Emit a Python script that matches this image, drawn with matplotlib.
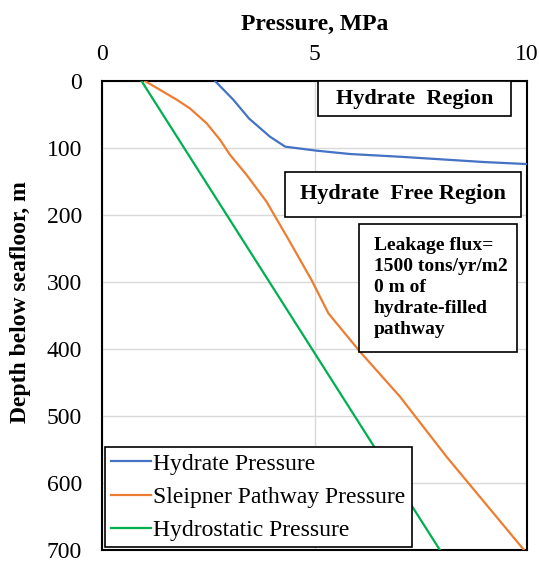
import matplotlib
matplotlib.use("Agg")
import matplotlib.pyplot as plt
from matplotlib.patches import Rectangle

plt.rcParams["font.family"] = ["Liberation Serif", "DejaVu Serif"]

# depth below seafloor (m) vs pressure (MPa)
hyd_depth = [0, 28, 56, 83, 98, 104, 109, 113, 117, 121, 124]
hyd_p = [2.66, 3.09, 3.46, 3.95, 4.31, 5.05, 5.84, 7.0, 8.0, 9.0, 10.0]

sleip_depth = [0, 13, 28, 41, 63, 88, 110, 140, 180, 240, 297, 347, 404, 471, 561, 700]
sleip_p = [1.01, 1.36, 1.76, 2.07, 2.46, 2.78, 3.01, 3.40, 3.87, 4.42, 4.93, 5.33,
           6.07, 7.01, 8.11, 9.93]

hs_depth = [0, 700]
hs_p = [0.93, 7.95]

series_labels = ["Hydrate Pressure", "Sleipner Pathway Pressure", "Hydrostatic Pressure"]
colors = ["#4472C4", "#ED7D31", "#00B050"]

x_ticks = [0, 5, 10]
y_ticks = [0, 100, 200, 300, 400, 500, 600, 700]

fig = plt.figure(figsize=(5.39, 5.63), dpi=100)
ax = fig.add_axes([102 / 539, 1 - 550 / 563, 425 / 539, 469 / 563])

ax.plot(hyd_p, hyd_depth, color=colors[0], lw=1.6, label=series_labels[0], zorder=3)
ax.plot(sleip_p, sleip_depth, color=colors[1], lw=1.6, label=series_labels[1], zorder=3)
ax.plot(hs_p, hs_depth, color=colors[2], lw=1.6, label=series_labels[2], zorder=3)

ax.set_xlim(0, 10)
ax.set_ylim(700, 0)
ax.set_xticks(x_ticks)
ax.set_yticks(y_ticks)
ax.xaxis.tick_top()
ax.xaxis.set_label_position("top")
ax.tick_params(axis="both", length=0, labelsize=17)
ax.tick_params(axis="x", pad=11.2)
ax.tick_params(axis="y", pad=14.4)
ax.grid(True, color="#d9d9d9", lw=1.0, zorder=0)
for s in ax.spines.values():
    s.set_linewidth(1.5)
    s.set_color("black")

ax.set_xlabel("Pressure, MPa", fontsize=17, fontweight="bold", labelpad=10.3)
ax.set_ylabel("Depth below seafloor, m", fontsize=17, fontweight="bold")
ax.yaxis.set_label_coords(-71 / 425, 1 - (302 - 81) / 469)

# text boxes (axes fraction)
boxes = [
    (0.508, 0.925, 0.454, 0.075, "Hydrate  Region"),
    (0.431, 0.710, 0.555, 0.096, "Hydrate  Free Region"),
]
for x0, y0, w, h, txt in boxes:
    ax.add_patch(Rectangle((x0, y0), w, h, transform=ax.transAxes, fill=True,
                           facecolor="white", edgecolor="black", lw=1.2, zorder=4))
    ax.text(x0 + w / 2, y0 + h / 2, txt, transform=ax.transAxes, ha="center",
            va="center", fontsize=16, fontweight="bold", zorder=5)

ax.add_patch(Rectangle((0.605, 0.422), 0.371, 0.273, transform=ax.transAxes,
                       facecolor="white", edgecolor="black", lw=1.2, zorder=4))
ax.text(0.64, 0.56, "Leakage flux=\n1500 tons/yr/m2\n0 m of\nhydrate-filled\npathway",
        transform=ax.transAxes, ha="left", va="center", fontsize=14,
        fontweight="bold", linespacing=1.3, zorder=5)

leg = ax.legend(loc="lower left", bbox_to_anchor=(0.007, 0.006), borderaxespad=0,
                fancybox=False, edgecolor="black", fontsize=17, handlelength=1.7,
                handletextpad=0.1, labelspacing=0.5, borderpad=0.25, framealpha=1)
leg.get_frame().set_linewidth(1.2)
leg.set_zorder(6)

fig.savefig("out.png", dpi=100)
